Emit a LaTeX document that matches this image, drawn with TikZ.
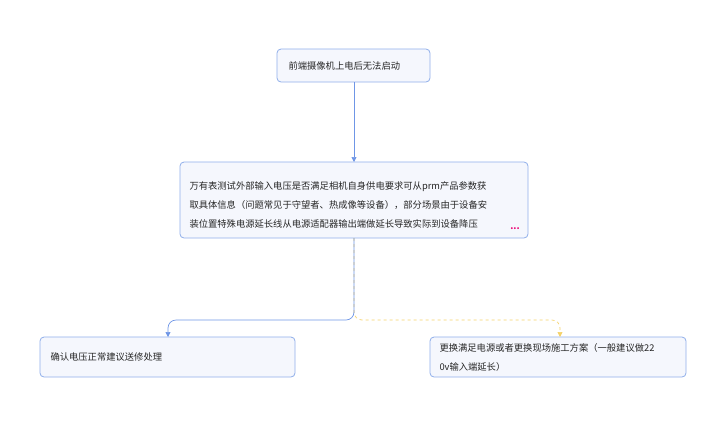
\documentclass[tikz,border=0pt]{standalone}
\usepackage{fontspec}
\setmainfont{Noto Sans CJK SC}
\usetikzlibrary{arrows.meta}
\definecolor{bd}{HTML}{8FAEEA}
\definecolor{bg}{HTML}{F5F7FD}
\definecolor{ln}{HTML}{6F96E6}
\definecolor{yl}{HTML}{F5D26A}
\begin{document}
\begin{tikzpicture}[x=1pt,y=-1pt,
  box/.style={draw=bd,fill=bg,rounded corners=4pt,line width=0.8pt},
  txt/.style={font=\fontsize{9.3}{19}\selectfont,anchor=west,align=left,text=black!85},
  arr/.style={draw=ln,line width=0.7pt,-{Triangle[length=5pt,width=5pt]}},
  yarr/.style={draw=yl,line width=0.7pt,dashed,-{Triangle[length=5pt,width=5pt]}}]
\useasboundingbox (0,0) rectangle (717,424);
\draw[box] (277,49) rectangle (430,82);
\node[txt] (a) at (285,66) {前端摄像机上电后无法启动};
\coordinate (at) at (354,82);
\draw[box] (180,162) rectangle (528,238);
\node[txt] (b) at (186,205) {万有表测试外部输入电压是否满足相机自身供电要求可从prm产品参数获\\取具体信息（问题常见于守望者、热成像等设备），部分场景由于设备安\\装位置特殊电源延长线从电源适配器输出端做延长导致实际到设备降压};
\node[text=magenta!80!red,font=\bfseries\small] (dots) at (515,229) {...};
\coordinate (bt) at (354,162);
\coordinate (bb) at (354,238);
\draw[box] (40,337) rectangle (295,377);
\node[txt] (c) at (47,357) {确认电压正常建议送修处理};
\coordinate (ct) at (168,337);
\draw[box] (430,337) rectangle (686,377);
\node[txt] (d) at (436,357) {更换满足电源或者更换现场施工方案（一般建议做22\\0v输入端延长）};
\coordinate (dt) at (560,337);
\draw[arr] (at) -- (bt);
\draw[yarr,rounded corners=8pt] (bb) -- (354,320) -- (560,320) -- (dt);
\draw[arr,rounded corners=8pt] (bb) -- (354,320) -- (168,320) -- (ct);
\end{tikzpicture}
\end{document}
